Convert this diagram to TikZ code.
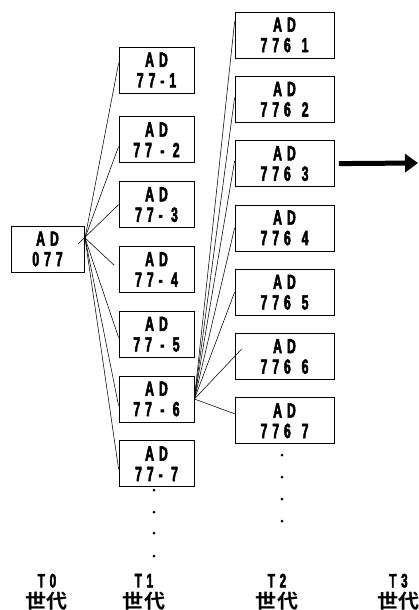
\documentclass[tikz,border=0pt]{standalone}
\usepackage{fontspec}
\newfontfamily\adfont{Liberation Sans Bold}[FakeStretch=0.6,LetterSpace=24,FakeBold=2.5]
\newfontfamily\cjk{Noto Sans CJK JP Bold}[FakeStretch=1.08]
\usetikzlibrary{positioning}
\usetikzlibrary{arrows.meta}

\begin{document}
\begin{tikzpicture}[x=1pt,y=-1pt,
    adbox/.style={draw, line width=0.8pt, minimum width=75pt, minimum height=46pt,
        inner sep=0pt, align=center, font=\adfont\fontsize{20.5}{20.5}\selectfont},
    gen/.style={align=center, font=\adfont\fontsize{19.5}{21}\selectfont},
    link/.style={line width=0.55pt},
    dot/.style={circle, fill, inner sep=0pt, minimum size=3pt}]
    \useasboundingbox (0,0) rectangle (419,610);
        % Nodes
        \node[adbox, minimum width=73pt] (p0) at (47.5,249) {AD\\077};

        \node[adbox]                (c1) at (156.5,70) {AD\\77-1};
        \node[adbox, below=23pt of c1] (c2) {AD\\77 - 2};
        \node[adbox, below=18pt of c2] (c3) {AD\\77- 3};
        \node[adbox, below=18pt of c3] (c4) {AD\\77- 4};
        \node[adbox, below=18pt of c4] (c5) {AD\\77 - 5};
        \node[adbox, below=18pt of c5] (c6) {AD\\77 - 6};
        \node[adbox, below=18pt of c6] (c7) {AD\\77- 7};

        \node[adbox, minimum width=99pt] (d1) at (284.5,35) {AD\\776\hspace{2.5pt} 1};
        \node[adbox, minimum width=99pt, below=17.5pt of d1] (d2) {AD\\776\hspace{2.5pt} 2};
        \node[adbox, minimum width=99pt, below=17.5pt of d2] (d3) {AD\\776\hspace{2.5pt} 3};
        \node[adbox, minimum width=99pt, below=17.5pt of d3] (d4) {AD\\776\hspace{2.5pt} 4};
        \node[adbox, minimum width=99pt, below=17.5pt of d4] (d5) {AD\\776\hspace{2.5pt} 5};
        \node[adbox, minimum width=99pt, below=17.5pt of d5] (d6) {AD\\776\hspace{2.5pt} 6};
        \node[adbox, minimum width=99pt, below=17.5pt of d6] (d7) {AD\\776\hspace{2.5pt} 7};

        % Dots
        \foreach \y [count=\i] in {490,512,533,556}
            \node[dot] (e\i) at (154,\y) {};
        \foreach \y [count=\i] in {455,477,499,521}
            \node[dot] (f\i) at (282,\y) {};

        % Generations
        \node[gen] (g0) at (47,592)  {T0\\{\cjk 世代}};
        \node[gen] (g1) at (144,592) {T1\\{\cjk 世代}};
        \node[gen] (g2) at (277,592) {T2\\{\cjk 世代}};
        \node[gen] (g3) at (398.5,592) {T3\\{\cjk 世代}};

        % Edges T0 -> T1
        \coordinate (s0) at (85,238);
        \coordinate (s0b) at (78,244);
        \draw[link] (s0) -- (c1.170);
        \draw[link] (s0) -- (c2.190);
        \draw[link] (s0b) -- (c3.west);
        \draw[link, shorten >=6pt] (s0) -- (c4.west);
        \draw[link] (s0) -- (c5.185);
        \draw[link] (s0) -- (c6.190);
        \draw[link] (s0) -- (c7.188);

        % Edges T1 -> T2
        \draw[link] (c6.east) -- (d1.165);
        \draw[link] (c6.east) -- (d2.178);
        \draw[link] (c6.east) -- (d3.177);
        \draw[link] (c6.east) -- (d4.west);
        \draw[link] (c6.east) -- (d5.west);
        \draw[link, shorten >=-10pt] (c6.east) -- (d6.west);
        \draw[link] (c6.east) -- (d7.172);

        % To T3
        \coordinate (t3) at (418,163);
        \draw[line width=5pt, -{Triangle[length=13pt,width=18pt]}]
            ([xshift=4.5pt]d3.east) -- (t3);
\end{tikzpicture}
\end{document}
